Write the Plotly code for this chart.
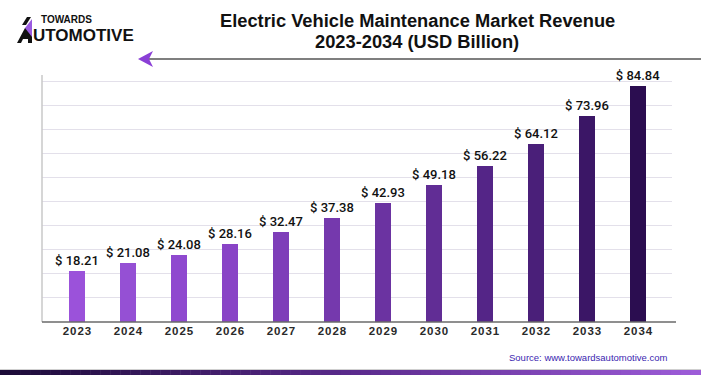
import plotly.graph_objects as go

years = ["2023", "2024", "2025", "2026", "2027", "2028", "2029", "2030", "2031", "2032", "2033", "2034"]
revenue = [18.21, 21.08, 24.08, 28.16, 32.47, 37.38, 42.93, 49.18, 56.22, 64.12, 73.96, 84.84]
bar_colors = ["#9b52da", "#9550d4", "#8f49cf", "#8944c6", "#7e3eb9", "#7539ad", "#6b33a1",
              "#612d95", "#542587", "#4a1f79", "#3b1666", "#2b0d50"]
tick_text = ["\u200a".join(y) for y in years]

W, H = 701, 375
L, R, T, B = 42, 29, 75, 53
PW, PH = W - L - R, H - T - B

def px(x):
    return (x - L) / PW

def py(y):
    return (H - B - y) / PH

fig = go.Figure()
fig.add_trace(go.Bar(
    x=years, y=revenue,
    marker=dict(color=bar_colors, line=dict(width=0)),
    width=0.31,
    texttemplate="$ %{y:.2f}", textposition="outside", constraintext="none",
    textfont=dict(size=13, color="#111111", family="Roboto, Liberation Sans, Arial", weight=500),
    cliponaxis=False,
    hoverinfo="skip",
))

shapes = []
shapes.append(dict(type="line", xref="paper", yref="paper", x0=0, x1=0, y0=0, y1=1,
                   line=dict(color="#c8c8c8", width=1.5)))
shapes.append(dict(type="line", xref="paper", yref="paper", x0=0, x1=px(676), y0=0, y1=0,
                   line=dict(color="#6a6a6a", width=1.5)))
shapes.append(dict(type="line", xref="paper", yref="paper", x0=px(148), x1=px(701), y0=py(59), y1=py(59),
                   line=dict(color="#555555", width=1.5)))
ah = [(138, 59), (153, 51), (149, 59), (153, 67)]
path = "M " + " L ".join(f"{px(a)},{py(b)}" for a, b in ah) + " Z"
shapes.append(dict(type="path", xref="paper", yref="paper", path=path,
                   fillcolor="#8a3fd6", line=dict(width=0)))
blk = [(17, 43), (25, 28), (32, 28), (32, 43), (28, 43), (28, 39), (23, 39), (21, 43)]
path = "M " + " L ".join(f"{px(a)},{py(b)}" for a, b in blk) + " Z"
shapes.append(dict(type="path", xref="paper", yref="paper", path=path,
                   fillcolor="#111111", line=dict(width=0)))
pur = [(25, 28), (32, 19), (32, 37)]
path = "M " + " L ".join(f"{px(a)},{py(b)}" for a, b in pur) + " Z"
shapes.append(dict(type="path", xref="paper", yref="paper", path=path,
                   fillcolor="#9a5ae0", line=dict(width=0)))
sl = [(22, 25), (27, 17), (31, 17), (26, 25)]
path = "M " + " L ".join(f"{px(a)},{py(b)}" for a, b in sl) + " Z"
shapes.append(dict(type="path", xref="paper", yref="paper", path=path,
                   fillcolor="#111111", line=dict(width=0)))

def lerp(c1, c2, t):
    return "#" + "".join(f"{int(round(a + (b - a) * t)):02x}" for a, b in zip(c1, c2))
c_left, c_mid, c_right = (0x1c, 0x0b, 0x38), (0x5a, 0x2a, 0x8c), (0x9d, 0x5c, 0xd8)
shapes.append(dict(type="line", xref="paper", yref="paper", x0=px(0), x1=px(701), y0=py(369.5), y1=py(369.5),
                   line=dict(color="#cfcfcf", width=1)))
n = 70
for i in range(n):
    t = i / (n - 1)
    col = lerp(c_left, c_mid, t * 2) if t < 0.5 else lerp(c_mid, c_right, (t - 0.5) * 2)
    x0 = i * W / n
    x1 = (i + 1) * W / n + 0.5
    shapes.append(dict(type="rect", xref="paper", yref="paper", x0=px(x0), x1=px(x1),
                       y0=py(375.5), y1=py(370), fillcolor=col, line=dict(width=0), layer="above"))

annotations = [
    dict(text="<b>Electric Vehicle Maintenance Market Revenue</b>", x=px(417), y=py(20),
         xref="paper", yref="paper", showarrow=False, xanchor="center", yanchor="middle",
         font=dict(size=18.3, color="#111111", family="Liberation Sans, Arial")),
    dict(text="<b>2023-2034 (USD Billion)</b>", x=px(417), y=py(42),
         xref="paper", yref="paper", showarrow=False, xanchor="center", yanchor="middle",
         font=dict(size=18.3, color="#111111", family="Liberation Sans, Arial")),
    dict(text="<b>TOWARDS</b>", x=px(39), y=py(19), xref="paper", yref="paper", showarrow=False,
         xanchor="left", yanchor="middle", font=dict(size=10, color="#111111", family="Liberation Sans, Arial")),
    dict(text="<b>UTOMOTIVE</b>", x=px(31), y=py(36), xref="paper", yref="paper", showarrow=False,
         xanchor="left", yanchor="middle", font=dict(size=17, color="#111111", family="Liberation Sans, Arial")),
    dict(text="Source: www.towardsautomotive.com", x=px(669), y=py(357), xref="paper", yref="paper",
         showarrow=False, xanchor="right", yanchor="middle",
         font=dict(size=9.5, color="#3b1fb0", family="Liberation Sans, Arial")),
]

k = 2.78
ymax = PH / k
fig.update_layout(
    width=W, height=H,
    margin=dict(l=L, r=R, t=T, b=B, autoexpand=False),
    paper_bgcolor="white", plot_bgcolor="white",
    showlegend=False,
    bargap=0,
    shapes=shapes,
    annotations=annotations,
    xaxis=dict(type="category", range=[-0.686, 11.667], tickmode="array", tickvals=years, ticktext=tick_text,
               showgrid=False, showline=False, ticks="", fixedrange=True, automargin=False,
               tickfont=dict(size=11.5, color="#2a2a2a", family="Liberation Sans, Arial", weight="bold")),
    yaxis=dict(range=[0, ymax], dtick=24.1 / k, showticklabels=False, showline=False, zeroline=False,
               gridcolor="#e3e0ea", gridwidth=1.3, ticks="", fixedrange=True, automargin=False),
)

fig.write_html("out.html", config={"displayModeBar": False},
               post_script="document.body.style.margin='0';document.body.style.padding='0';")
